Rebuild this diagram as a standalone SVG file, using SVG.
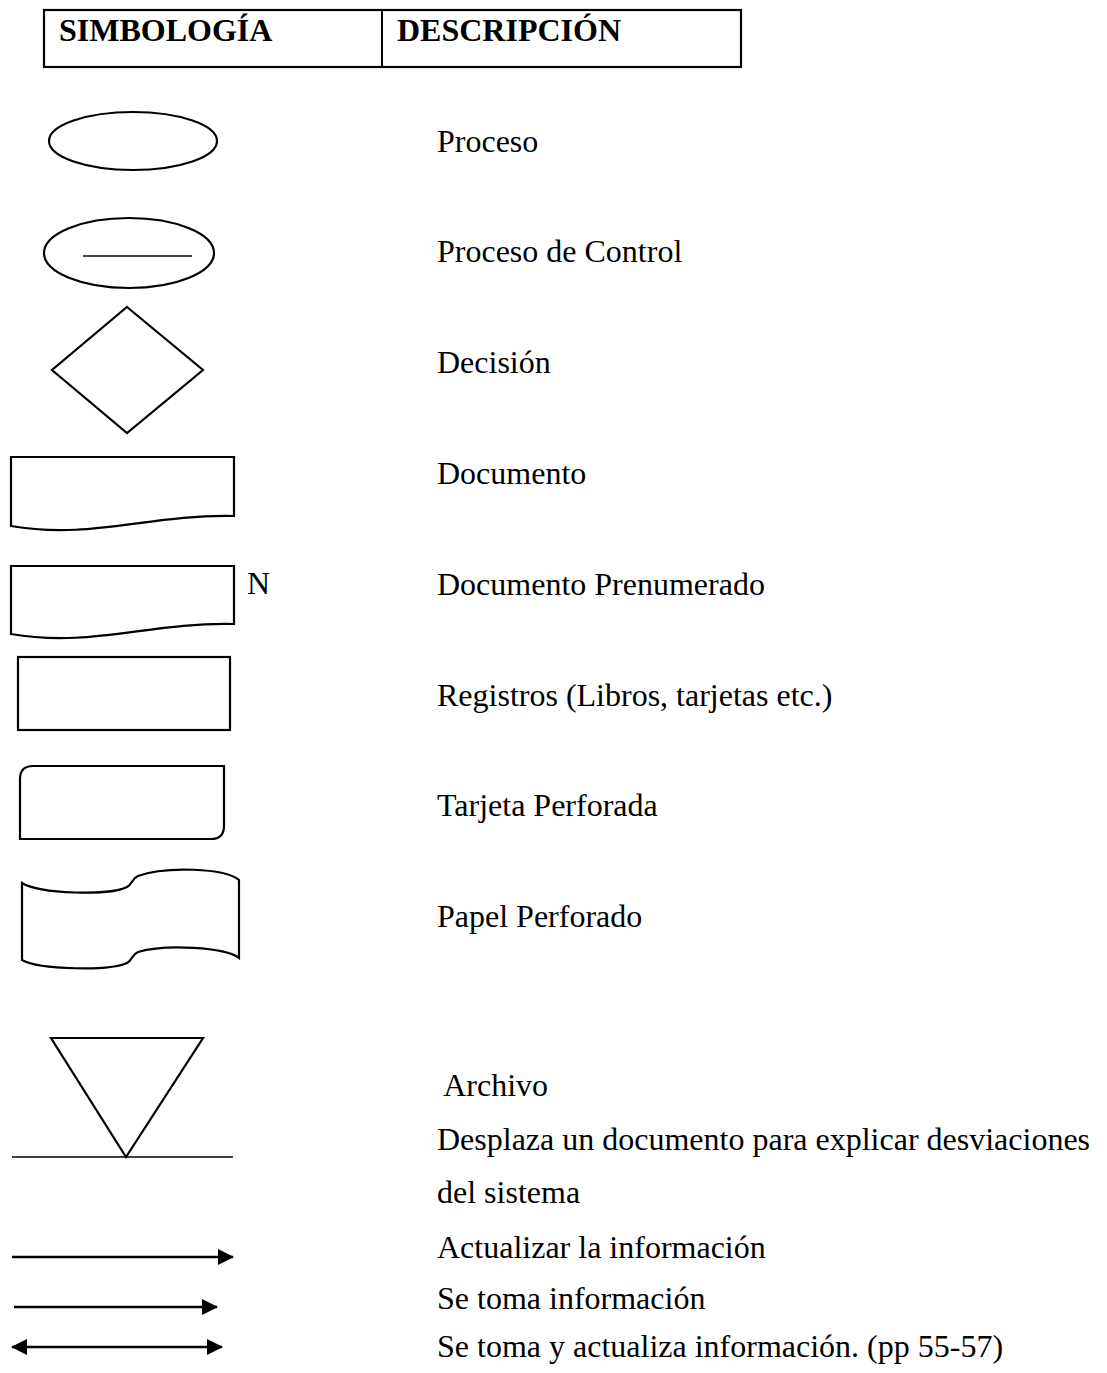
<svg xmlns="http://www.w3.org/2000/svg" width="1107" height="1373" viewBox="0 0 1107 1373">
  <style>
    .sym { fill: #fff; stroke: #000; stroke-width: 2.2; stroke-linejoin: miter; }
    .thin { fill: none; stroke: #000; stroke-width: 1.3; }
    .conn { fill: none; stroke: #000; stroke-width: 2.6; }
    .hdr { font-family: "Liberation Serif", "Times New Roman", serif; font-size: 32px; font-weight: bold; fill: #000; }
    .lbl { font-family: "Liberation Serif", "Times New Roman", serif; font-size: 32px; fill: #000; }
  </style>
  <defs>
    <marker id="head" viewBox="0 0 16 16" refX="15" refY="8" markerWidth="16" markerHeight="16" markerUnits="userSpaceOnUse" orient="auto-start-reverse">
      <path d="M0,0 L16,8 L0,16 Z" fill="#000"/>
    </marker>
  </defs>
  <rect width="1107" height="1373" fill="#fff"/>

  <!-- header table -->
  <g id="header">
    <rect x="44" y="10" width="697" height="57" fill="none" stroke="#000" stroke-width="2.2"/>
    <line x1="382" y1="10" x2="382" y2="67" stroke="#000" stroke-width="2"/>
    <text class="hdr" x="59" y="41">SIMBOLOGÍA</text>
    <text class="hdr" x="397" y="41">DESCRIPCIÓN</text>
  </g>

  <!-- process -->
  <g id="proceso">
    <ellipse class="sym" cx="133" cy="141" rx="84" ry="29"/>
    <text class="lbl" x="437" y="152">Proceso</text>
  </g>

  <!-- control process -->
  <g id="proceso-control">
    <ellipse class="sym" cx="129" cy="253" rx="85" ry="35"/>
    <line class="thin" x1="83" y1="256" x2="192" y2="256"/>
    <text class="lbl" x="437" y="262">Proceso de Control</text>
  </g>

  <!-- decision -->
  <g id="decision">
    <polygon class="sym" points="127,307 203,370 127,433 52,370"/>
    <text class="lbl" x="437" y="373">Decisión</text>
  </g>

  <!-- document -->
  <g id="documento">
    <path class="sym" d="M11,457 H234 V516 C150,514 90,540 11,526 Z"/>
    <text class="lbl" x="437" y="484">Documento</text>
  </g>

  <!-- pre-numbered document -->
  <g id="documento-prenumerado">
    <path class="sym" d="M11,566 H234 V624 C150,622 90,648 11,634 Z"/>
    <text class="lbl" x="247" y="594">N</text>
    <text class="lbl" x="437" y="595">Documento Prenumerado</text>
  </g>

  <!-- records -->
  <g id="registros">
    <rect class="sym" x="18" y="657" width="212" height="73"/>
    <text class="lbl" x="437" y="706">Registros (Libros, tarjetas etc.)</text>
  </g>

  <!-- punched card -->
  <g id="tarjeta-perforada">
    <path class="sym" d="M33,766 H224 V826 Q224,839 211,839 H20 V779 Q20,766 33,766 Z"/>
    <text class="lbl" x="437" y="816">Tarjeta Perforada</text>
  </g>

  <!-- punched paper tape -->
  <g id="papel-perforado">
    <path class="sym" d="M22,883 C40,894 110,896 127,887 C133,884 131,879 138,876 C165,866 225,868 239,880 V958 C225,947 165,944 138,952 C131,955 133,960 127,963 C110,971 40,970 22,960 Z"/>
    <text class="lbl" x="437" y="927">Papel Perforado</text>
  </g>

  <!-- file -->
  <g id="archivo">
    <polygon class="sym" points="51,1038 203,1038 126,1157"/>
    <line class="thin" x1="12" y1="1157" x2="233" y2="1157"/>
    <text class="lbl" x="437" y="1096" xml:space="preserve"> Archivo</text>
    <text class="lbl" x="437" y="1150">Desplaza un documento para explicar desviaciones</text>
    <text class="lbl" x="437" y="1203">del sistema</text>
  </g>

  <!-- flow arrows -->
  <g id="connectors">
    <line class="conn" x1="12" y1="1257" x2="233" y2="1257" marker-end="url(#head)"/>
    <line class="conn" x1="14" y1="1307" x2="217" y2="1307" marker-end="url(#head)"/>
    <line class="conn" x1="12" y1="1347" x2="222" y2="1347" marker-start="url(#head)" marker-end="url(#head)"/>
  </g>
  <g id="arrow-labels">
    <text class="lbl" x="437" y="1258">Actualizar la información</text>
    <text class="lbl" x="437" y="1309">Se toma información</text>
    <text class="lbl" x="437" y="1357">Se toma y actualiza información. (pp 55-57)</text>
  </g>
</svg>
